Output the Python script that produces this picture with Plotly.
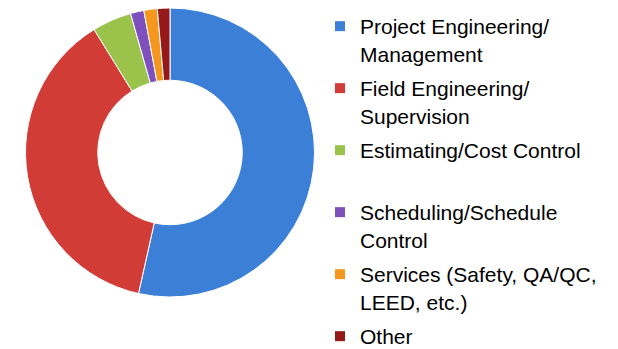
import plotly.graph_objects as go

# Staff share by function (percent)
categories = [
    "Project Engineering/Management",
    "Field Engineering/Supervision",
    "Estimating/Cost Control",
    "Scheduling/Schedule Control",
    "Services (Safety, QA/QC, LEED, etc.)",
    "Other",
]
shares = [53.5, 37.7, 4.4, 1.5, 1.5, 1.4]

# legend text as it wraps in the original
legend_labels = [
    "Project Engineering/<br>Management",
    "Field Engineering/<br>Supervision",
    "Estimating/Cost Control<br> ",
    "Scheduling/Schedule<br>Control",
    "Services (Safety, QA/QC,<br>LEED, etc.)",
    "Other",
]

colors = ["#3b80d6", "#d23c37", "#9bc34b", "#7d50be", "#f5961e", "#961919"]

W, H = 618, 349

fig = go.Figure()

fig.add_trace(
    go.Pie(
        labels=categories,
        values=shares,
        hole=0.5,
        sort=False,
        direction="clockwise",
        rotation=0,
        textinfo="none",
        marker=dict(colors=colors, line=dict(color="white", width=1)),
        domain=dict(x=[17 / W, 307 / W], y=[1 - 289 / H, 1]),
        showlegend=False,
    )
)

# legend entries, one group each so the gaps match the original
for name, label, color in zip(categories, legend_labels, colors):
    fig.add_trace(
        go.Scatter(
            x=[None],
            y=[None],
            mode="markers",
            name=label,
            legendgroup=name,
            marker=dict(symbol="square", size=10, color=color),
            hoverinfo="skip",
        )
    )

fig.update_layout(
    width=W,
    height=H,
    margin=dict(l=0, r=0, t=0, b=0, autoexpand=False),
    paper_bgcolor="white",
    plot_bgcolor="white",
    font=dict(family="Liberation Sans, Arial, sans-serif", size=21, color="black"),
    xaxis=dict(visible=False),
    yaxis=dict(visible=False),
    legend=dict(
        x=312 / W,
        xanchor="left",
        y=1 + 2 / H,
        yanchor="top",
        traceorder="grouped",
        tracegroupgap=4.4,
        valign="top",
        maxheight=800,
        bgcolor="rgba(0,0,0,0)",
    ),
)

fig.write_html("out.html")
